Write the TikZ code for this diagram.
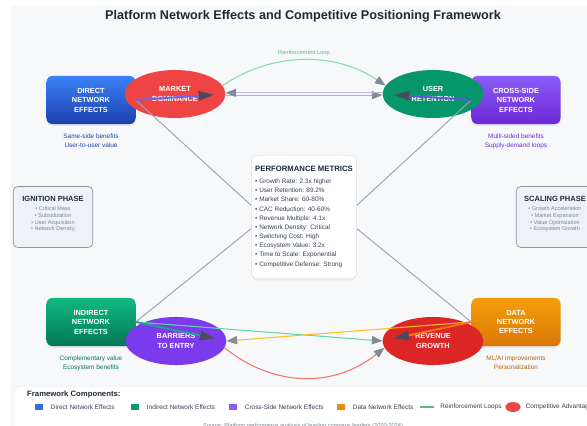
\documentclass[tikz,border=0pt]{standalone}
\usepackage{fontspec}
\setmainfont{Liberation Sans}
\usetikzlibrary{shapes.geometric,arrows.meta,shadows,positioning}

\definecolor{pagebg}{HTML}{F7F8FA}
\definecolor{titleink}{HTML}{1F2937}
\definecolor{directtop}{HTML}{3B82F6}
\definecolor{directbot}{HTML}{1E40AF}
\definecolor{indirecttop}{HTML}{10B981}
\definecolor{indirectbot}{HTML}{047857}
\definecolor{crosstop}{HTML}{8B5CF6}
\definecolor{crossbot}{HTML}{6D28D9}
\definecolor{datatop}{HTML}{F59E0B}
\definecolor{databot}{HTML}{D97706}
\definecolor{marketfill}{HTML}{EF4444}
\definecolor{retentionfill}{HTML}{059669}
\definecolor{barrierfill}{HTML}{7C3AED}
\definecolor{revenuefill}{HTML}{DC2626}
\definecolor{spokegray}{HTML}{9CA3AF}
\definecolor{tipdark}{HTML}{4B4B5E}
\definecolor{tipgray}{HTML}{858A94}
\definecolor{indigo}{HTML}{6366F1}
\definecolor{lavender}{HTML}{A5B4FC}
\definecolor{teal}{HTML}{1FA38C}
\definecolor{mint}{HTML}{6EE7B7}
\definecolor{amber}{HTML}{FBBF24}
\definecolor{orange}{HTML}{F97316}
\definecolor{rose}{HTML}{F87171}
\definecolor{loopgreen}{HTML}{7EE2A0}
\definecolor{phasefill}{HTML}{EEF2F7}
\definecolor{phaseline}{HTML}{8A94A6}
\definecolor{bodyink}{HTML}{374151}
\definecolor{softink}{HTML}{7B8494}

\tikzset{
  effect/.style={rounded corners=5pt, minimum width=76pt, minimum height=41pt,
    text=white, align=center, font=\fontsize{6.3}{8.1}\selectfont\bfseries,
    drop shadow={opacity=0.15, shadow xshift=0pt, shadow yshift=-1.5pt}},
  outcome/.style={ellipse, minimum width=86pt, minimum height=41pt, inner sep=0pt,
    text=white, align=center, font=\fontsize{6.3}{8.1}\selectfont\bfseries},
  note/.style={align=center, font=\fontsize{5.5}{7.3}\selectfont},
  phasebox/.style={draw=phaseline, fill=phasefill, rounded corners=4pt, line width=0.6pt,
    minimum width=68pt, minimum height=52pt},
  spoke/.style={draw=spokegray, line width=0.8pt},
  feed/.style={line width=1.6pt, shorten >=10pt, -{Triangle[length=13pt,width=8pt,color=tipdark]}},
  link/.style={line width=0.9pt, -{Triangle[length=9pt,width=7pt,color=tipgray]}},
  swatch/.style={minimum width=7.5pt, minimum height=5pt, inner sep=0pt},
  keytext/.style={font=\fontsize{5.5}{7}\selectfont, text=bodyink, inner sep=0pt}
}

\begin{document}
\begin{tikzpicture}[x=0.03cm, y=-0.03cm]
  \useasboundingbox (0,0) rectangle (587,426);
  \clip (0,0) rectangle (587,426);
  \fill[white] (0,0) rectangle (587,426);
  \fill[pagebg] (10,5) rectangle (587,426);

  \node[font=\fontsize{10.8}{13}\selectfont\bfseries, text=titleink] (title) at (303,16)
    {Platform Network Effects and Competitive Positioning Framework};

  % network effect types
  \node[effect, top color=directtop, bottom color=directbot] (direct) at (91,100)
    {DIRECT\\NETWORK\\EFFECTS};
  \node[effect, top color=crosstop, bottom color=crossbot] (cross) at (516,100)
    {CROSS-SIDE\\NETWORK\\EFFECTS};
  \node[effect, top color=indirecttop, bottom color=indirectbot] (indirect) at (91,322)
    {INDIRECT\\NETWORK\\EFFECTS};
  \node[effect, top color=datatop, bottom color=databot] (data) at (516,322)
    {DATA\\NETWORK\\EFFECTS};

  \node[note, text=directbot, below=5pt of direct] (directnote)
    {Same-side benefits\\User-to-user value};
  \node[note, text=crossbot, below=5pt of cross] (crossnote)
    {Multi-sided benefits\\Supply-demand loops};
  \node[note, text=indirectbot, below=5pt of indirect] (indirectnote)
    {Complementary value\\Ecosystem benefits};
  \node[note, text=databot!85!black, below=5pt of data] (datanote)
    {ML/AI improvements\\Personalization};

  % competitive outcomes
  \node[outcome, fill=marketfill] (market) at (175,94) {MARKET\\DOMINANCE};
  \node[outcome, fill=retentionfill] (retention) at (433,94) {USER\\RETENTION};
  \node[outcome, fill=barrierfill] (barriers) at (176,341) {BARRIERS\\TO ENTRY};
  \node[outcome, fill=revenuefill] (revenue) at (433,341) {REVENUE\\GROWTH};

  \node[draw=gray!25, fill=white, rounded corners=5pt, minimum width=87pt, minimum height=105pt,
    align=left, text=bodyink, font=\fontsize{5.5}{7.85}\selectfont,
    drop shadow={opacity=0.12, shadow xshift=0pt, shadow yshift=-1.5pt}] (metrics) at (304,217)
    {\textcolor{titleink}{\fontsize{6.6}{9}\selectfont\bfseries PERFORMANCE METRICS}\\[2pt]
     • Growth Rate: 2.3x higher\\
     • User Retention: 89.2\%\\
     • Market Share: 60-80\%\\
     • CAC Reduction: 40-60\%\\
     • Revenue Multiple: 4.1x\\
     • Network Density: Critical\\
     • Switching Cost: High\\
     • Ecosystem Value: 3.2x\\
     • Time to Scale: Exponential\\
     • Competitive Defense: Strong};

  \node[phasebox] (ignition) at (53,217) {};
  \node[align=center, text=softink, font=\fontsize{4.7}{5.8}\selectfont] (ignitiontext) at (53,214)
    {\textcolor{titleink}{\fontsize{6.4}{8}\selectfont\bfseries IGNITION PHASE}\\[2pt]
     • Critical Mass\\ • Subsidization\\ • User Acquisition\\ • Network Density};
  \node[phasebox] (scaling) at (556,217) {};
  \node[align=center, text=softink, font=\fontsize{4.7}{5.8}\selectfont] (scalingtext) at (555,214)
    {\textcolor{titleink}{\fontsize{6.4}{8}\selectfont\bfseries SCALING PHASE}\\[2pt]
     • Growth Acceleration\\ • Market Expansion\\ • Value Optimization\\ • Ecosystem Growth};

  % links to the metrics panel
  \draw[spoke] (direct.east) -- ([yshift=10pt]metrics.west);
  \draw[spoke] (cross.west) -- ([yshift=10pt]metrics.east);
  \draw[spoke] (indirect.east) -- ([yshift=-10pt]metrics.west);
  \draw[spoke] (data.west) -- ([yshift=-10pt]metrics.east);

  \draw[link, draw=lavender] ([yshift=-1pt]market.east) -- ([yshift=-1pt]retention.west);
  \draw[link, draw=lavender!70!violet!60] ([yshift=1pt]retention.west) -- ([yshift=1pt]market.east);
  \draw[link, draw=loopgreen] (market.10) .. controls +(50,-34) and +(-50,-34) .. (retention.170)
    node[pos=0.5, above=0pt, text=loopgreen!80!black, font=\fontsize{4.9}{6}\selectfont] {Reinforcement Loop};
  \draw[feed, draw=indigo] (direct.east) -- (market.east);
  \draw[feed, draw=indigo!80!violet] (cross.west) -- (retention.west);

  \draw[link, draw=mint!80!teal] (indirect.east) -- (revenue.west);
  \draw[link, draw=amber] (data.west) -- (barriers.east);
  \draw[link, draw=rose] (barriers.-8) .. controls +(50,40) and +(-50,40) .. (revenue.188);
  \draw[feed, draw=teal] (indirect.east) -- (barriers.east);
  \draw[feed, draw=orange] (data.west) -- (revenue.west);

  % legend
  \node[draw=gray!20, fill=white, rounded corners=5pt, minimum width=576pt, minimum height=60pt,
    anchor=north west] (legend) at (14,386) {};
  \node[anchor=west, inner sep=0pt, text=titleink, font=\fontsize{6.6}{8}\selectfont\bfseries]
    (legendtitle) at (27,394) {Framework Components:};
  \node[swatch, fill=directtop!70!directbot] (kdirect) at (39,407) {};
  \node[keytext, right=6pt of kdirect] {Direct Network Effects};
  \node[swatch, fill=indirecttop!50!indirectbot] (kindirect) at (135,407) {};
  \node[keytext, right=6pt of kindirect] {Indirect Network Effects};
  \node[swatch, fill=crosstop] (kcross) at (233,407) {};
  \node[keytext, right=6pt of kcross] {Cross-Side Network Effects};
  \node[swatch, fill=datatop!60!databot] (kdata) at (341,407) {};
  \node[keytext, right=6pt of kdata] {Data Network Effects};
  \node[minimum width=12pt, inner sep=0pt] (kloop) at (427,407) {};
  \draw[draw=loopgreen!80!black, line width=1pt] (kloop.west) -- (kloop.east);
  \node[keytext, right=5pt of kloop] {Reinforcement Loops};
  \node[ellipse, fill=marketfill, minimum width=13pt, minimum height=8.5pt, inner sep=0pt] (kedge) at (513,407) {};
  \node[keytext, right=4pt of kedge] {Competitive Advantage};

  \node[text=softink, font=\fontsize{4.8}{6}\selectfont] (source) at (303,426)
    {Source: Platform performance analysis of leading company leaders (2020-2024)};
\end{tikzpicture}
\end{document}
